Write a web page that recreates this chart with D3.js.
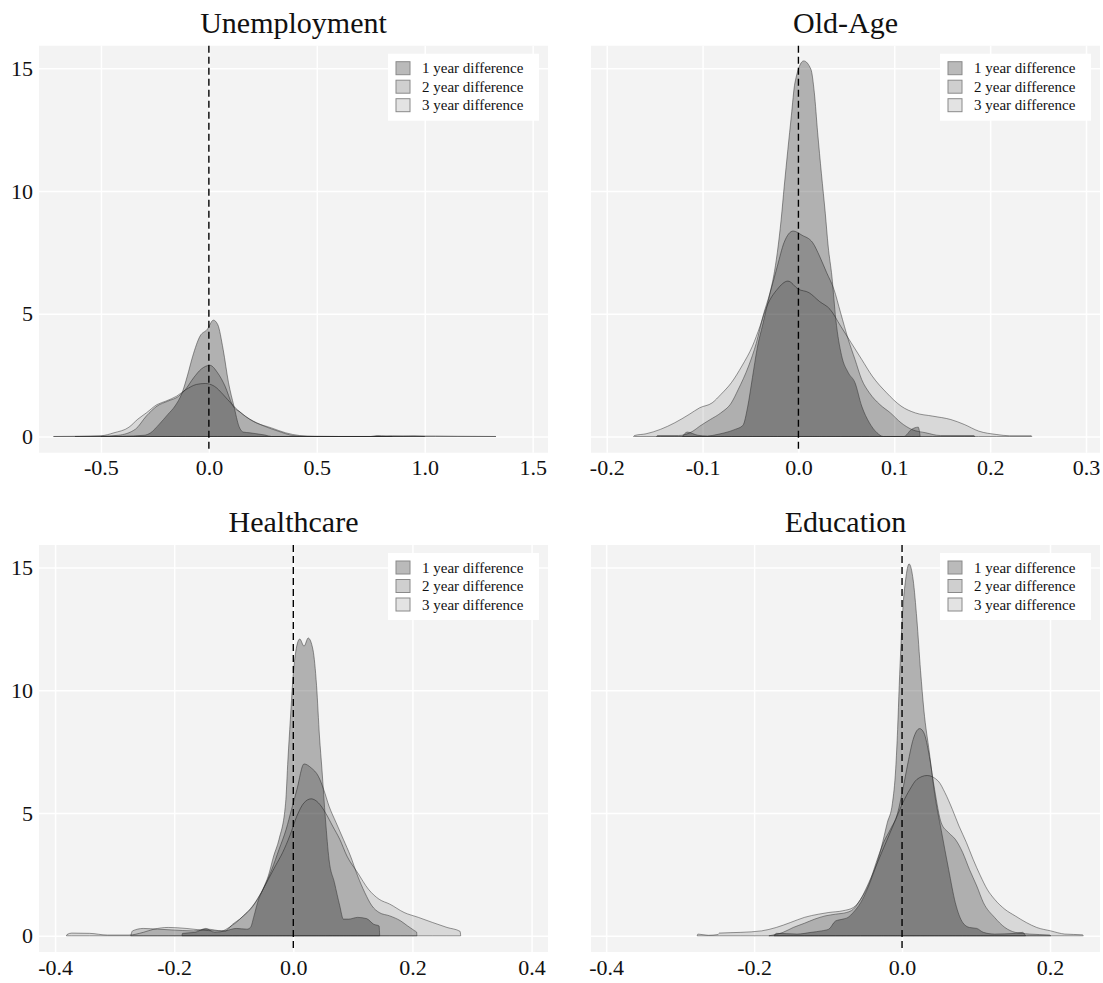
<!DOCTYPE html>
<html>
<head>
<meta charset="utf-8">
<script src="https://cdn.jsdelivr.net/npm/d3@7"></script>
<style>
  body { margin: 0; background: #fff; }
  svg { font-family: "Liberation Serif", "DejaVu Serif", serif; }
</style>
</head>
<body>
<div id="chart"></div>
<script>
// panel titles, legend labels and ticks
var panelTitles = ["Unemployment", "Old-Age", "Healthcare", "Education"];
var seriesNames = ["1 year difference", "2 year difference", "3 year difference"];
var xTicks = [
    [-0.5, 0, 0.5, 1.0, 1.5],
    [-0.2, -0.1, 0, 0.1, 0.2, 0.3],
    [-0.4, -0.2, 0, 0.2, 0.4],
    [-0.4, -0.2, 0, 0.2]
];
var yTicks = [0, 5, 10, 15];
var xRanges = [[-0.787, 1.571], [-0.2164, 0.3146], [-0.427, 0.4276], [-0.4205, 0.2676]];
var yRange = [-0.66, 15.92];

// density curves, [difference, density]
var unemp1 = [[-0.5,0],[-0.4,0.01],[-0.3,0.05],[-0.27,0.15],[-0.23,0.5],[-0.19,0.9],[-0.157,1.24],[-0.124,1.78],[-0.1,2.46],[-0.075,3.27],[-0.041,4.09],[-0.008,4.36],[0.021,4.74],[0.041,4.56],[0.066,3.55],[0.091,2.19],[0.116,1.24],[0.14,0.4],[0.16,0.18],[0.19,0.15],[0.23,0.1],[0.26,0.06],[0.29,0],[0.75,0],[0.78,0.04],[0.82,0.02],[0.85,0]];
var unemp2 = [[-0.62,0],[-0.5,0.01],[-0.42,0.05],[-0.34,0.3],[-0.29,0.83],[-0.24,1.24],[-0.19,1.44],[-0.14,1.64],[-0.11,1.9],[-0.07,2.4],[-0.035,2.75],[0.005,2.9],[0.04,2.6],[0.075,2.05],[0.108,1.3],[0.15,0.96],[0.19,0.7],[0.257,0.42],[0.32,0.22],[0.39,0.04],[0.45,0],[0.8,0],[0.85,0.03],[0.95,0.02],[1.0,0]];
var unemp3 = [[-0.72,0],[-0.6,0.01],[-0.5,0.03],[-0.44,0.15],[-0.37,0.38],[-0.33,0.7],[-0.29,0.96],[-0.24,1.3],[-0.2,1.44],[-0.15,1.64],[-0.108,1.9],[-0.058,2.12],[-0.017,2.16],[0.025,2.05],[0.066,1.71],[0.108,1.3],[0.157,0.9],[0.22,0.56],[0.29,0.35],[0.356,0.15],[0.42,0.04],[0.49,0.01],[0.6,0],[0.9,0],[0.95,0.02],[1.05,0.02],[1.15,0.01],[1.33,0]];

var oldage1 = [[-0.121,0],[-0.116,0.18],[-0.105,0.05],[-0.095,0.02],[-0.085,0.08],[-0.077,0.15],[-0.066,0.29],[-0.058,0.45],[-0.053,1.2],[-0.048,2.4],[-0.043,3.6],[-0.037,4.6],[-0.03,5.8],[-0.026,6.5],[-0.022,7.5],[-0.018,8.85],[-0.0148,10.2],[-0.011,11.7],[-0.0074,13.06],[-0.0037,14.4],[0.0055,15.3],[0.013,14.96],[0.0166,14.0],[0.02,12.4],[0.024,10.7],[0.028,9.1],[0.031,7.76],[0.035,6.5],[0.039,4.77],[0.045,3.3],[0.052,2.6],[0.059,2.19],[0.066,1.24],[0.074,0.56],[0.082,0.15],[0.0886,0],[0.11,0],[0.118,0.29],[0.125,0.38],[0.127,0]];
var oldage2 = [[-0.148,0],[-0.147,0.04],[-0.125,0.04],[-0.118,0.08],[-0.11,0.22],[-0.103,0.42],[-0.092,0.69],[-0.081,0.96],[-0.07,1.37],[-0.063,1.9],[-0.052,2.87],[-0.044,3.8],[-0.037,4.9],[-0.0295,5.86],[-0.022,6.94],[-0.015,7.9],[-0.0055,8.37],[0.0037,8.2],[0.0148,7.9],[0.022,7.35],[0.0295,6.67],[0.037,6.0],[0.044,5.04],[0.052,3.95],[0.059,3.14],[0.066,2.32],[0.074,1.78],[0.085,1.3],[0.096,0.96],[0.107,0.56],[0.118,0.29],[0.133,0.15],[0.148,0.04],[0.183,0.04],[0.184,0]];
var oldage3 = [[-0.172,0],[-0.171,0.04],[-0.159,0.11],[-0.144,0.29],[-0.129,0.56],[-0.114,0.9],[-0.103,1.17],[-0.09,1.37],[-0.081,1.71],[-0.07,2.19],[-0.059,2.87],[-0.048,3.68],[-0.04,4.5],[-0.033,5.3],[-0.022,6.0],[-0.011,6.33],[0,6.0],[0.011,5.86],[0.022,5.5],[0.033,5.18],[0.044,4.5],[0.055,3.82],[0.066,3.14],[0.077,2.46],[0.092,1.78],[0.107,1.24],[0.122,0.96],[0.14,0.83],[0.159,0.69],[0.173,0.49],[0.188,0.22],[0.207,0.08],[0.22,0.03],[0.243,0.03],[0.2435,0]];

var health1 = [[-0.187,0],[-0.186,0.1],[-0.165,0.14],[-0.147,0.3],[-0.132,0.14],[-0.114,0.2],[-0.096,0.3],[-0.078,0.27],[-0.072,0.34],[-0.066,0.81],[-0.06,1.36],[-0.051,1.9],[-0.042,2.44],[-0.033,3.25],[-0.024,3.93],[-0.013,5.4],[-0.009,7.2],[-0.005,8.8],[-0.0012,10.3],[0.003,11.4],[0.0108,12.09],[0.018,11.8],[0.025,12.13],[0.033,11.65],[0.039,10.2],[0.044,8.1],[0.048,6.8],[0.054,4.74],[0.06,3.1],[0.069,2.17],[0.078,1.22],[0.084,0.68],[0.093,0.68],[0.108,0.75],[0.123,0.7],[0.135,0.47],[0.144,0.4],[0.145,0]];
var health2 = [[-0.273,0],[-0.27,0.2],[-0.252,0.3],[-0.228,0.27],[-0.204,0.24],[-0.168,0.2],[-0.144,0.27],[-0.12,0.2],[-0.108,0.34],[-0.096,0.54],[-0.084,0.81],[-0.072,1.08],[-0.06,1.49],[-0.048,2.03],[-0.036,2.71],[-0.024,3.52],[-0.012,4.34],[-0.003,5.15],[0.006,5.96],[0.018,7.0],[0.03,6.84],[0.042,6.5],[0.051,5.96],[0.06,5.28],[0.072,4.6],[0.084,3.93],[0.096,3.25],[0.108,2.44],[0.12,1.76],[0.132,1.22],[0.144,0.95],[0.162,0.81],[0.18,0.61],[0.192,0.4],[0.204,0.2],[0.207,0.15],[0.2075,0]];
var health3 = [[-0.381,0],[-0.38,0.05],[-0.372,0.11],[-0.342,0.1],[-0.312,0.03],[-0.276,0.03],[-0.252,0.14],[-0.234,0.27],[-0.21,0.34],[-0.18,0.3],[-0.156,0.24],[-0.13,0.2],[-0.114,0.2],[-0.102,0.47],[-0.09,0.68],[-0.078,0.95],[-0.066,1.29],[-0.054,1.76],[-0.042,2.3],[-0.03,2.85],[-0.018,3.39],[-0.006,4.07],[0.006,4.88],[0.018,5.42],[0.03,5.58],[0.042,5.42],[0.054,5.01],[0.066,4.47],[0.078,3.93],[0.09,3.25],[0.108,2.57],[0.126,1.9],[0.144,1.49],[0.162,1.29],[0.186,0.95],[0.21,0.75],[0.234,0.54],[0.258,0.34],[0.28,0.18],[0.281,0]];

var educ1 = [[-0.173,0],[-0.17,0.1],[-0.142,0.07],[-0.123,0.14],[-0.109,0.2],[-0.099,0.27],[-0.09,0.6],[-0.08,0.68],[-0.073,0.75],[-0.066,0.95],[-0.056,1.35],[-0.047,1.9],[-0.037,2.7],[-0.028,3.6],[-0.02,4.6],[-0.013,5.4],[-0.0086,6.8],[-0.006,8.4],[-0.0038,10.2],[-0.0014,11.9],[0.001,13.3],[0.0048,14.5],[0.0095,15.15],[0.015,14.5],[0.02,12.9],[0.025,10.8],[0.0295,9.2],[0.037,7.45],[0.044,5.8],[0.053,4.3],[0.063,2.7],[0.072,1.35],[0.082,0.54],[0.091,0.34],[0.101,0.3],[0.11,0.14],[0.125,0.07],[0.153,0.1],[0.163,0.14],[0.167,0]];
var educ2 = [[-0.18,0],[-0.161,0.14],[-0.147,0.34],[-0.132,0.51],[-0.118,0.68],[-0.104,0.81],[-0.09,0.88],[-0.075,0.95],[-0.066,1.08],[-0.056,1.49],[-0.044,2.17],[-0.035,2.98],[-0.025,3.8],[-0.0157,4.34],[-0.006,5.0],[0.001,5.96],[0.008,7.05],[0.015,8.0],[0.0238,8.44],[0.0295,8.27],[0.037,7.3],[0.044,5.96],[0.053,4.6],[0.063,4.2],[0.072,3.93],[0.082,3.39],[0.091,2.71],[0.101,2.03],[0.11,1.35],[0.125,0.75],[0.139,0.34],[0.153,0.14],[0.172,0.07],[0.2,0.03],[0.201,0]];
var educ3 = [[-0.277,0],[-0.276,0.07],[-0.262,0.02],[-0.249,0.05],[-0.247,0.11],[-0.218,0.14],[-0.19,0.2],[-0.17,0.34],[-0.151,0.54],[-0.132,0.75],[-0.113,0.88],[-0.099,0.95],[-0.08,1.02],[-0.066,1.15],[-0.056,1.49],[-0.047,2.03],[-0.037,2.71],[-0.0276,3.39],[-0.018,4.07],[-0.0086,4.74],[0.001,5.42],[0.0105,5.96],[0.02,6.37],[0.034,6.53],[0.049,6.3],[0.058,5.83],[0.068,5.15],[0.077,4.47],[0.087,3.8],[0.096,3.12],[0.106,2.44],[0.115,1.9],[0.125,1.49],[0.139,1.08],[0.153,0.81],[0.168,0.54],[0.182,0.34],[0.201,0.2],[0.22,0.07],[0.244,0.04],[0.245,0]];

var panelSeries = [
    [unemp1, unemp2, unemp3],
    [oldage1, oldage2, oldage3],
    [health1, health2, health3],
    [educ1, educ2, educ3]
];

// layout
var width = 1103, height = 983;
var colLeft = [39, 591];
var rowTop = [45.7, 545];
var panelW = 509, panelH = 407;
var fillAlpha = [0.27, 0.19, 0.11];

var svg = d3.select("#chart").append("svg")
    .attr("width", width)
    .attr("height", height);

var fmt = function (d) { return d.toFixed(1); };

panelTitles.forEach(function (title, i) {
    var col = i % 2, row = Math.floor(i / 2);
    var g = svg.append("g")
        .attr("transform", "translate(" + colLeft[col] + "," + rowTop[row] + ")");

    var x = d3.scaleLinear().domain(xRanges[i]).range([0, panelW]);
    var y = d3.scaleLinear().domain(yRange).range([panelH, 0]);

    g.append("rect")
        .attr("width", panelW)
        .attr("height", panelH)
        .attr("fill", "#f3f3f3");

    //x axis doubles as vertical gridlines
    var xAxis = g.append("g")
        .attr("transform", "translate(0," + panelH + ")")
        .call(d3.axisBottom(x).tickValues(xTicks[i]).tickSize(panelH).tickSizeOuter(0).tickPadding(8).tickFormat(fmt));
    xAxis.selectAll("line").attr("transform", "translate(0," + (-panelH) + ")");
    xAxis.selectAll("text").attr("y", 7).attr("dy", "0.71em");

    var yAxis = g.append("g")
        .call(d3.axisLeft(y).tickValues(yTicks).tickSize(-panelW).tickPadding(6)
            .tickFormat(col === 0 ? d3.format("d") : function () { return ""; }));

    [xAxis, yAxis].forEach(function (a) {
        a.select(".domain").remove();
        a.selectAll("line").attr("stroke", "#fff").attr("stroke-width", 1.5);
        a.selectAll("text").attr("fill", "#111").style("font-size", "22px")
            .style("font-family", "'Liberation Serif', 'DejaVu Serif', serif");
    });

    var area = d3.area()
        .x(function (d) { return x(d[0]); })
        .y0(y(0))
        .y1(function (d) { return y(d[1]); })
        .curve(d3.curveMonotoneX);

    // widest first, narrow one on top
    for (var s = 2; s >= 0; s--) {
        g.append("path")
            .datum(panelSeries[i][s])
            .attr("d", area)
            .attr("fill", "rgba(0,0,0," + fillAlpha[s] + ")")
            .attr("stroke", "rgba(40,40,40,0.6)")
            .attr("stroke-width", 0.8);
    }

    g.append("line")
        .attr("x1", x(0)).attr("x2", x(0))
        .attr("y1", 0).attr("y2", panelH)
        .attr("stroke", "#000")
        .attr("stroke-width", 1.4)
        .attr("stroke-dasharray", "7,4");

    g.append("text")
        .attr("x", panelW / 2)
        .attr("y", -13)
        .attr("text-anchor", "middle")
        .attr("fill", "#111")
        .style("font-size", "30px")
        .text(title);

    //legend box top right
    var lg = g.append("g").attr("transform", "translate(" + (panelW - 160) + ",8)");
    lg.append("rect").attr("width", 151).attr("height", 67).attr("fill", "#fff");
    seriesNames.forEach(function (name, k) {
        var cy = 14.5 + k * 18.5;
        lg.append("rect")
            .attr("x", 8).attr("y", cy - 6.5)
            .attr("width", 14).attr("height", 13)
            .attr("fill", "rgba(0,0,0," + fillAlpha[k] + ")")
            .attr("stroke", "#8a8a8a")
            .attr("stroke-width", 1);
        lg.append("text")
            .attr("x", 34).attr("y", cy)
            .attr("dy", "0.35em")
            .attr("fill", "#111")
            .style("font-size", "15px")
            .text(name);
    });
});
</script>
</body>
</html>
